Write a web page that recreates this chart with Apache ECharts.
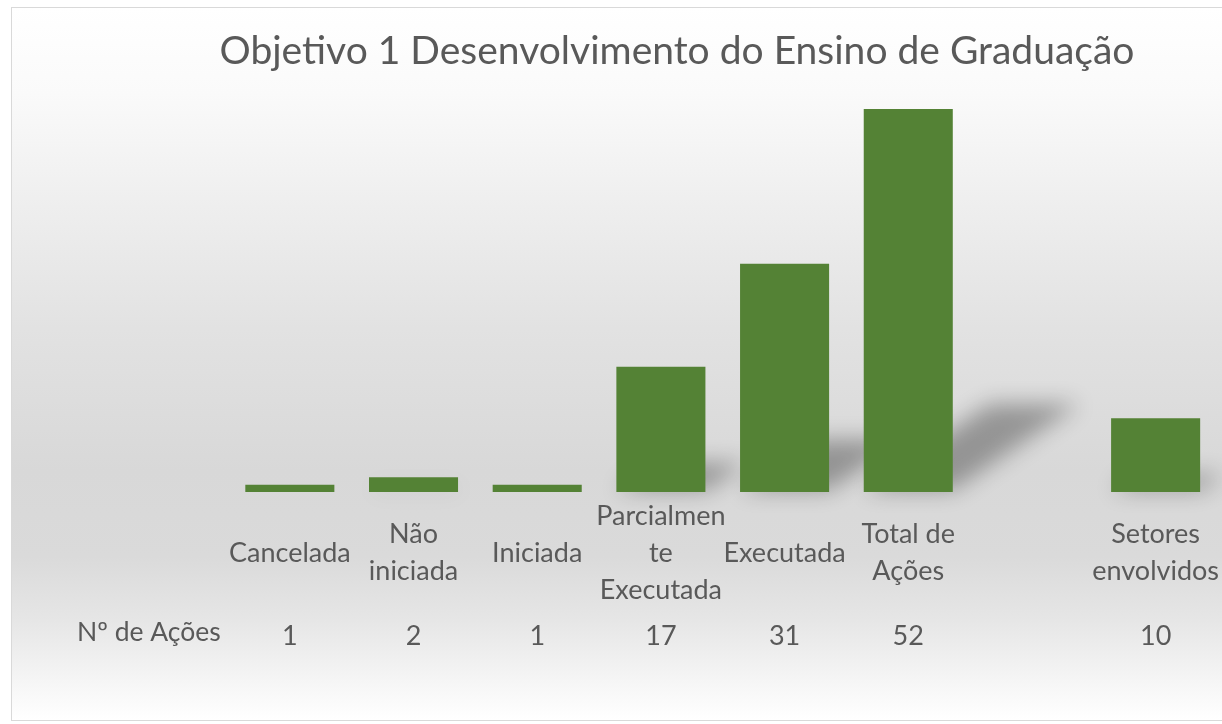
<!DOCTYPE html>
<html>
<head>
<meta charset="utf-8">
<script src="https://cdn.jsdelivr.net/npm/echarts@6/dist/echarts.min.js"></script>
<style>
  html, body { margin: 0; padding: 0; background: #fff; overflow: hidden; }
  #frame {
    position: absolute; left: 11px; top: 7px; width: 1240px; height: 712px;
    border: 1px solid #d9d9d9;
    background: linear-gradient(to bottom, #ffffff 0%, #fafafa 12%, #eeeeee 28%, #e2e2e2 45%, #d8d8d8 65%, #dadada 77%, #e6e6e6 86%, #f8f8f8 96%, #ffffff 100%);
  }
  #main { position: absolute; left: 0; top: 0; width: 1222px; height: 724px; }
</style>
</head>
<body>
<div id="frame"></div>
<div id="main"></div>
<script>
// categorias (com a quebra de linha como aparece no gráfico)
var categorias = ['Cancelada', 'Não\niniciada', 'Iniciada', 'Parcialmen\nte\nExecutada',
                  'Executada', 'Total de\nAções', '', 'Setores\nenvolvidos'];
// Nº de Ações
var valores = [1, 2, 1, 17, 31, 52, null, 10];
var rotuloLinha = 'Nº de Ações';
var titulo = 'Objetivo 1 Desenvolvimento do Ensino de Graduação';

var fonte = 'Lato, "Open Sans", sans-serif';
var cinza = '#595959';
var verde = '#548235';

var myChart = echarts.init(document.getElementById('main'));

myChart.setOption({
    title: {
        text: titulo,
        left: 672, top: 27, textAlign: 'center',
        textStyle: { fontFamily: fonte, fontSize: 39, fontWeight: 'normal', color: cinza }
    },
    grid: { left: 228, right: 4, top: 50, bottom: 232 },
    graphic: [{
        type: 'text', left: 77, top: 619,
        style: { text: rotuloLinha, fontFamily: fonte, fontSize: 26.5, fill: cinza }
    }],
    xAxis: [{
        type: 'category', data: categorias,
        axisLine: { show: false }, axisTick: { show: false },
        axisLabel: {
            interval: 0, margin: 61, verticalAlign: 'middle', lineHeight: 37,
            fontFamily: fonte, fontSize: 27, color: cinza
        }
    }, {
        type: 'category', position: 'bottom',
        data: valores.map(function (v) { return v == null ? '' : String(v); }),
        axisLine: { show: false }, axisTick: { show: false },
        axisLabel: {
            interval: 0, margin: 144, verticalAlign: 'middle',
            fontFamily: fonte, fontSize: 27, color: cinza
        }
    }],
    yAxis: { type: 'value', min: 0, max: 60, show: false, splitLine: { show: false } },
    series: [{
        // sombra em perspectiva atrás das colunas (só a sombra desfocada é visível)
        type: 'custom', xAxisIndex: 0, z: 1, silent: true, clip: false,
        data: valores.map(function (v, i) { return [i, v]; }),
        renderItem: function (params, api) {
            if (api.value(1) == null || isNaN(api.value(1))) return;
            var top = api.coord([api.value(0), api.value(1)]);
            var base = api.coord([api.value(0), 0]);
            var w = api.size([1, 0])[0] * 0.72;
            var h = base[1] - top[1];
            var xl = base[0] - w / 2, xr = base[0] + w / 2;
            var dx = h * 0.33, dy = h * 0.23;
            var off = 3000;
            return {
                type: 'polygon',
                shape: { points: [[xl - off, base[1] - 2], [xr - off, base[1] - 2],
                                  [xr + dx - off, base[1] - dy], [xl + dx - off, base[1] - dy]] },
                style: {
                    fill: '#000',
                    shadowBlur: 22, shadowOffsetX: off, shadowColor: 'rgba(0,0,0,0.32)'
                }
            };
        }
    }, {
        name: rotuloLinha, type: 'bar', xAxisIndex: 0, z: 2,
        data: valores, barCategoryGap: '28%',
        itemStyle: { color: verde }
    }]
});
</script>
</body>
</html>
